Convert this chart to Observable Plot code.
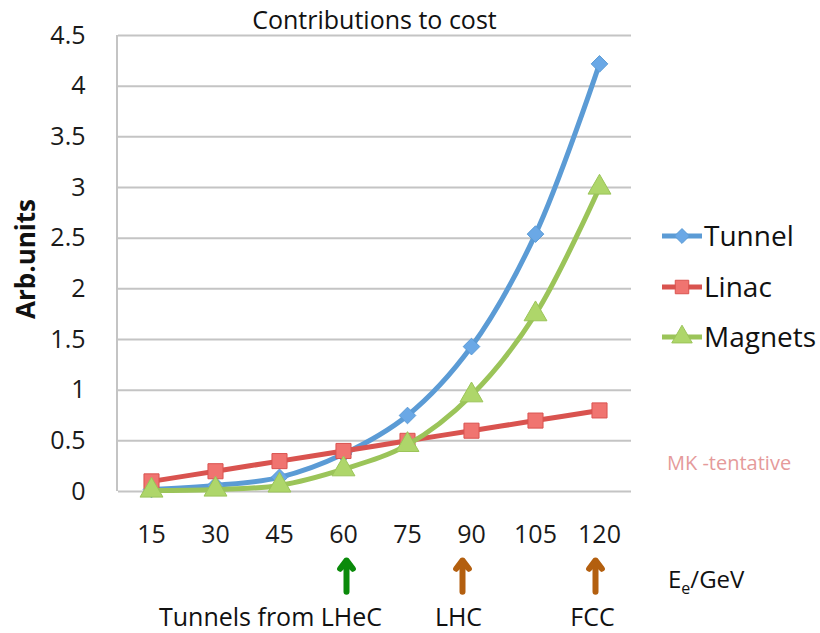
<!DOCTYPE html>
<html>
<head>
<meta charset="utf-8">
<script src="https://cdn.jsdelivr.net/npm/d3@7"></script>
<script src="https://cdn.jsdelivr.net/npm/@observablehq/plot@0.6"></script>
<style>
  html, body { margin: 0; padding: 0; background: #fff; }
  #chart { position: relative; width: 820px; height: 633px; }
</style>
</head>
<body>
<div id="chart"></div>
<script>
// ---- data ----
const energies = [15, 30, 45, 60, 75, 90, 105, 120];
const tunnel  = [0.02, 0.06, 0.14, 0.37, 0.75, 1.43, 2.54, 4.22];
const linac   = [0.10, 0.20, 0.30, 0.40, 0.50, 0.60, 0.70, 0.80];
const magnets = [0.01, 0.02, 0.06, 0.22, 0.46, 0.95, 1.75, 3.00];
const seriesNames = ["Tunnel", "Linac", "Magnets"];
const yTicks = [0, 0.5, 1, 1.5, 2, 2.5, 3, 3.5, 4, 4.5];
const milestoneE = [60, 90, 120];
const milestoneLabels = ["Tunnels from LHeC", "LHC", "FCC"];
const milestoneColors = ["#0a8a0a", "#b35f0f", "#b35f0f"];
const labelShift = [-73, -13, -7];
const arrowShift = [3, -9, -4];

const style = {
  Tunnel:  {line: "#5B9BD5", fill: "#6AA8E6", symbol: "diamond2", r: 7.5},
  Linac:   {line: "#D9534F", fill: "#F07470", symbol: "square",   r: 8.5},
  Magnets: {line: "#9BC459", fill: "#AED66A", symbol: "triangle", r: 8.5}
};

const values = {Tunnel: tunnel, Linac: linac, Magnets: magnets};
const rows = [];
for (const s of seriesNames) energies.forEach((e, i) => rows.push({series: s, e: String(e), v: values[s][i]}));
const milestones = milestoneE.map((e, i) => ({e: String(e), label: milestoneLabels[i], color: milestoneColors[i]}));

const font = "'Open Sans', Lato, sans-serif";
const xDomain = energies.map(String);

const marks = [
  Plot.gridY(yTicks, {stroke: "#c4c4c4", strokeOpacity: 1, strokeWidth: 2})
];
for (const s of seriesNames) {
  const d = rows.filter(r => r.series === s);
  marks.push(Plot.line(d, {x: "e", y: "v", stroke: style[s].line, strokeWidth: 5, curve: "catmull-rom"}));
  marks.push(Plot.dot(d, {
    x: "e", y: "v", symbol: style[s].symbol, r: style[s].r,
    fill: style[s].fill, stroke: style[s].line, strokeWidth: 1
  }));
}
milestones.forEach((m, i) => {
  marks.push(Plot.arrow([m], {
    x1: "e", x2: "e", y1: -0.99, y2: -0.68, dx: arrowShift[i],
    stroke: "color", strokeWidth: 6, headLength: 15, headAngle: 75, clip: false
  }));
  marks.push(Plot.text([m], {
    x: "e", y: -1.25, text: "label", fill: "#111",
    fontSize: 25, fontFamily: font, textAnchor: "middle", dx: labelShift[i]
  }));
});

const plot = Plot.plot({
  width: 820,
  height: 633,
  marginLeft: 118,
  marginRight: 189,
  marginTop: 35,
  marginBottom: 142,
  style: {fontFamily: font, background: "#fff", overflow: "visible"},
  x: {type: "band", domain: xDomain, label: null, padding: 0},
  y: {domain: [0, 4.5], label: null},
  color: {type: "identity"},
  marks: [
    ...marks,
    Plot.axisX({tickSize: 0, tickPadding: 34, fontSize: 25, fill: "#1a1a1a", label: null}),
    Plot.axisY({ticks: yTicks, tickSize: 0, tickPadding: 33, fontSize: 25, fill: "#1a1a1a", label: null, tickFormat: d => String(d)})
  ]
});
document.getElementById("chart").appendChild(plot);

const svg = d3.select(plot);
const xr = plot.scale("x").range;
const yr = plot.scale("y").range;
// left axis line, drawn from the scales' ranges
svg.insert("line", ":first-child").attr("x1", xr[0] - 1).attr("x2", xr[0] - 1).attr("y1", yr[0]).attr("y2", yr[1])
  .attr("stroke", "#c4c4c4").attr("stroke-width", 2);

svg.append("text").attr("x", (xr[0] + xr[1]) / 2).attr("y", 29).attr("text-anchor", "middle")
  .attr("font-size", 25).attr("font-family", font).attr("fill", "#111").text("Contributions to cost");
svg.append("text").attr("transform", "translate(35,259) rotate(-90)").attr("text-anchor", "middle")
  .attr("font-size", 26).attr("font-weight", "bold").attr("font-family", font).attr("fill", "#111").text("Arb.units");

const legendY = [236, 287, 337];
seriesNames.forEach((s, i) => {
  const g = svg.append("g").attr("transform", `translate(0,${legendY[i]})`);
  g.append("line").attr("x1", 662).attr("x2", 702).attr("y1", 0).attr("y2", 0)
    .attr("stroke", style[s].line).attr("stroke-width", 5);
  const sym = s === "Tunnel" ? d3.symbolDiamond2 : s === "Linac" ? d3.symbolSquare : d3.symbolTriangle;
  g.append("path").attr("transform", "translate(682,0)")
    .attr("d", d3.symbol(sym, Math.PI * style[s].r * style[s].r * 0.8)())
    .attr("fill", style[s].fill).attr("stroke", style[s].line);
  g.append("text").attr("x", 704).attr("y", 0).attr("dy", "0.36em").attr("text-anchor", "start")
    .attr("font-size", 28).attr("font-family", font).attr("fill", "#111").text(s);
});

svg.append("text").attr("x", 667).attr("y", 470).attr("font-size", 20).attr("text-anchor", "start")
  .attr("font-family", font).attr("fill", "#E59A9A").text("MK -tentative");

const ee = svg.append("text").attr("x", 668).attr("y", 588).attr("font-size", 24).attr("text-anchor", "start")
  .attr("font-family", font).attr("fill", "#111");
ee.append("tspan").text("E");
ee.append("tspan").attr("font-size", 16).attr("dy", 6).text("e");
ee.append("tspan").attr("dy", -6).text("/GeV");
</script>
</body>
</html>
